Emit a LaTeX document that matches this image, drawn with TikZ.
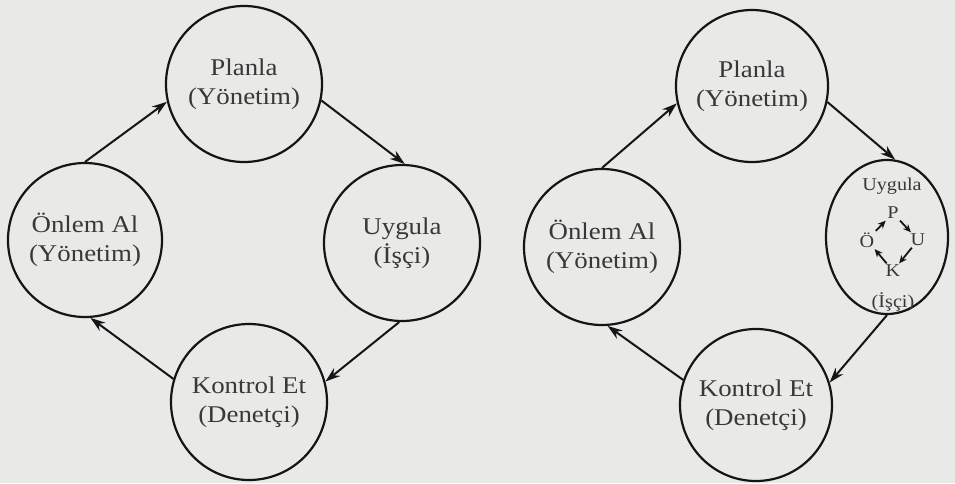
\documentclass[tikz,border=0pt]{standalone}
\usepackage{fontspec}
\setmainfont[FakeStretch=1.12]{Liberation Serif}
\usetikzlibrary{arrows.meta,shapes.geometric}
\definecolor{paper}{HTML}{E9E9E7}
\definecolor{ink}{HTML}{151515}
\tikzset{
  stage/.style={circle, draw=ink, line width=2.2pt, minimum size=156pt, inner sep=0pt,
    align=center, font=\fontsize{24}{29}\selectfont, text=ink!85},
  flow/.style={draw=ink, line width=2pt, -{Stealth[length=15pt,width=10pt]}},
  tiny/.style={inner sep=1.5pt, font=\fontsize{18}{20}\selectfont, text=ink!85},
  tinyflow/.style={draw=ink, line width=1.8pt, -{Stealth[length=8pt,width=7pt]}}
}
\begin{document}
\begin{tikzpicture}[x=1pt,y=-1pt]
\useasboundingbox (0,0) rectangle (955,483);
\fill[paper] (0,0) rectangle (955,483);
% left cycle
\node[stage] (p1) at (244,84) {Planla\\(Yönetim)};
\node[stage] (u1) at (402,243) {Uygula\\(İşçi)};
\node[stage, minimum size=154pt] (o1) at (85,240) {Önlem Al\\(Yönetim)};
\node[stage] (k1) at (249,402) {Kontrol Et\\(Denetçi)};
\draw[flow] (o1.90) -- (p1.193);
\draw[flow] (p1.348) -- (u1.88);
\draw[flow] (u1.268) -- (k1.15);
\draw[flow] (k1.163) -- (o1.274);
% right cycle
\node[stage, minimum size=152pt] (p2) at (752,86) {Planla\\(Yönetim)};
\node[stage, minimum size=156pt] (o2) at (602,247) {Önlem Al\\(Yönetim)};
\node[stage, minimum size=152pt] (k2) at (756,405) {Kontrol Et\\(Denetçi)};
\node[ellipse, draw=ink, line width=2.2pt, minimum width=122pt, minimum height=154pt, inner sep=0pt] (u2) at (887,237) {};
\node[tiny] (ut) at (892,186) {Uygula};
\node[tiny] (ip) at (893,213) {P};
\node[tiny] (iu) at (918,240) {U};
\node[tiny] (ik) at (893,271) {K};
\node[tiny] (io) at (867,240) {Ö};
\node[tiny] (iw) at (893,302) {(İşçi)};
\draw[tinyflow] (ip) -- (iu);
\draw[tinyflow] (iu) -- (ik);
\draw[tinyflow] (ik) -- (io);
\draw[tinyflow] (io) -- (ip);
\draw[flow] (o2.90) -- (p2.193);
\draw[flow] (p2.348) -- (u2.84);
\draw[flow] (u2.270) -- (k2.17);
\draw[flow] (k2.161) -- (o2.274);
\end{tikzpicture}
\end{document}
